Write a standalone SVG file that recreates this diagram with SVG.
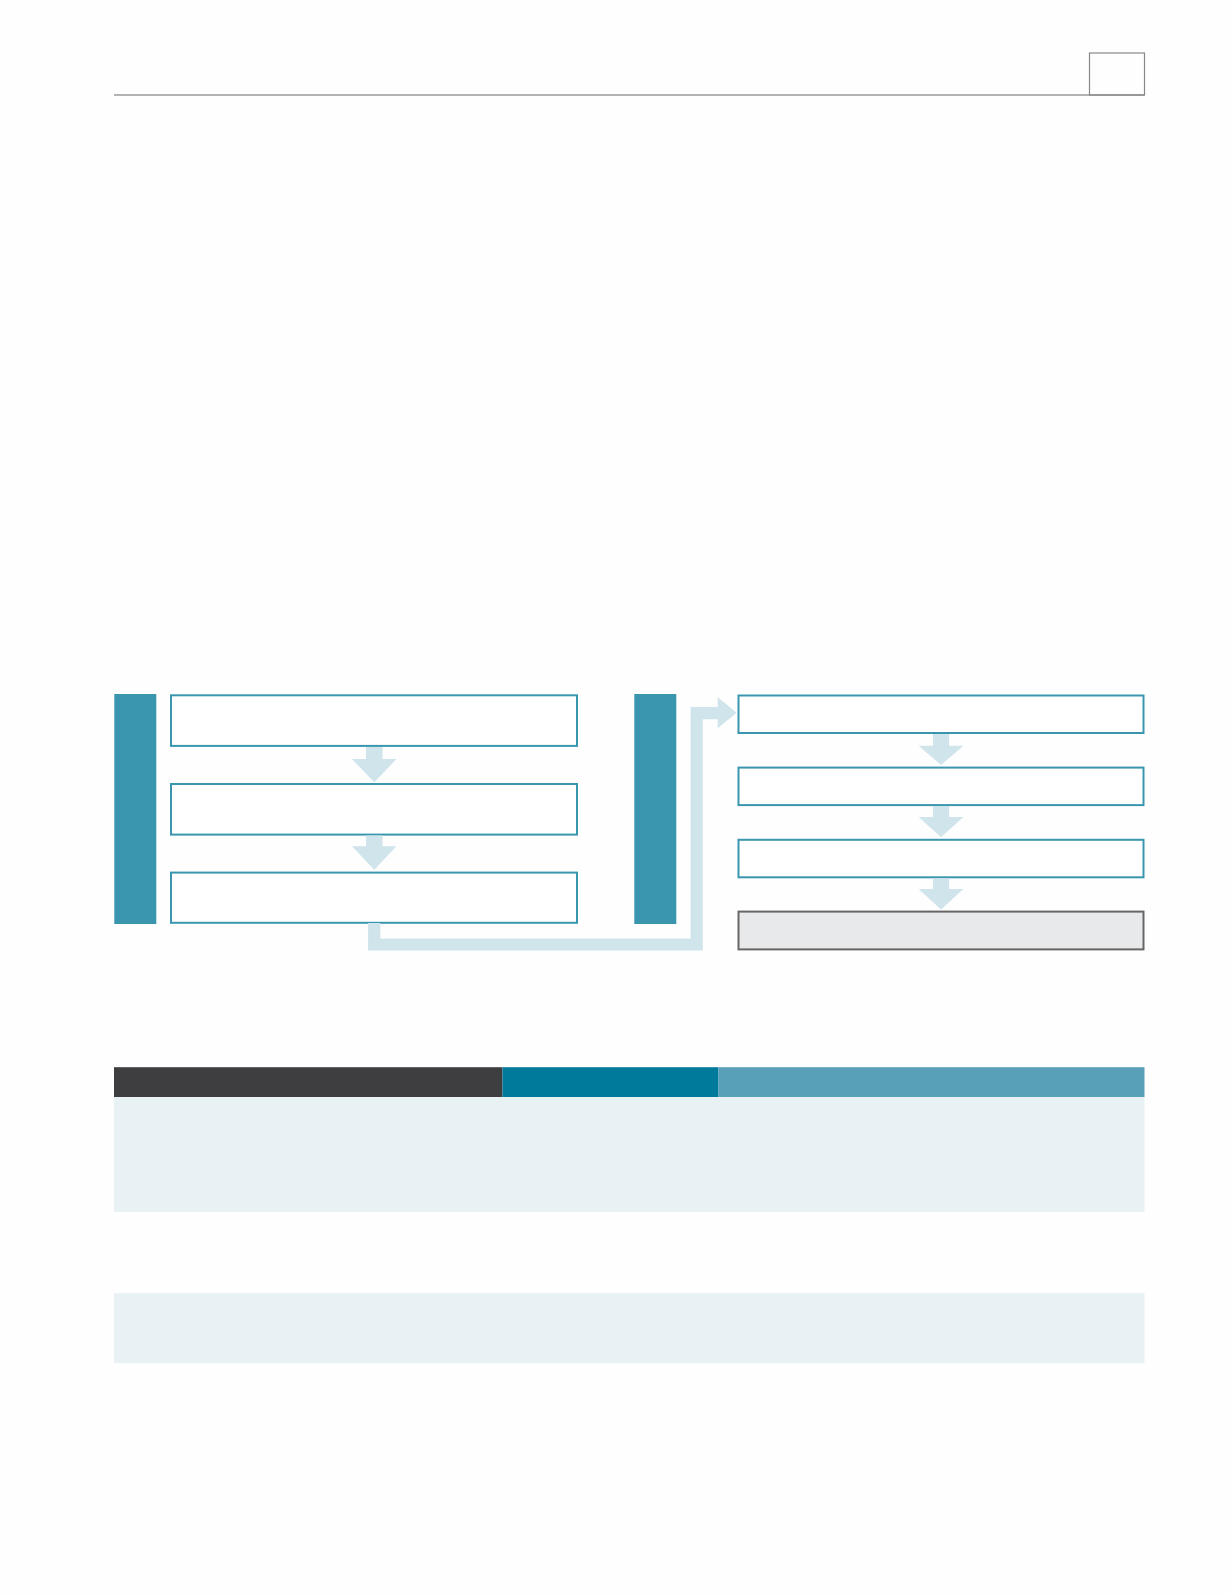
<svg xmlns="http://www.w3.org/2000/svg" width="1230" height="1595" viewBox="0 0 1230 1595">
<style>
.bar{fill:#3a96ae}
.box{fill:#ffffff;stroke:#3a96ae;stroke-width:2}
.end{fill:#e8e9eb;stroke:#666666;stroke-width:2}
.arr{fill:#d0e4eb}
.conn{fill:none;stroke:#d0e4eb;stroke-width:12.2;stroke-linejoin:miter}
.band{fill:#e8f1f4}
</style>
<rect width="1230" height="1595" fill="#fefefe"/>
<g id="header">
<line x1="114" y1="95" x2="1144.5" y2="95" stroke="#999999" stroke-width="1.5"/>
<rect x="1089.5" y="53" width="55" height="42" fill="none" stroke="#888888" stroke-width="1.2"/>
</g>
<g id="bar-left"><rect class="bar" x="114.3" y="694" width="42" height="230"/></g>
<g id="bar-right"><rect class="bar" x="634.3" y="694" width="42" height="230"/></g>
<g id="box-l1"><rect class="box" x="171" y="695.3" width="406" height="50.6"/></g>
<g id="box-l2"><rect class="box" x="171" y="784" width="406" height="50.6"/></g>
<g id="box-l3"><rect class="box" x="171" y="872.6" width="406" height="50.2"/></g>
<g id="box-r1"><rect class="box" x="738.5" y="695.5" width="405" height="37.5"/></g>
<g id="box-r2"><rect class="box" x="738.5" y="767.6" width="405" height="37.5"/></g>
<g id="box-r3"><rect class="box" x="738.5" y="839.8" width="405" height="37.5"/></g>
<g id="box-r4"><rect class="end" x="738.5" y="911.6" width="405" height="37.8"/></g>
<g id="connectors">
<polygon class="arr" points="366,747 382.6,747 382.6,759 396.5,759 374.3,782.3 352,759 366,759"/>
<polygon class="arr" points="366,835.6 382.6,835.6 382.6,846.3 396.5,846.3 374.3,869.8 352,846.3 366,846.3"/>
<polygon class="arr" points="932.9,734 949.1,734 949.1,745.7 963.4,745.7 941,765 918.6,745.7 932.9,745.7"/>
<polygon class="arr" points="932.9,806.1 949.1,806.1 949.1,816.9 963.4,816.9 941,837.2 918.6,816.9 932.9,816.9"/>
<polygon class="arr" points="932.9,878.3 949.1,878.3 949.1,889.1 963.4,889.1 941,909.5 918.6,889.1 932.9,889.1"/>
<path class="conn" d="M374.2 923 V944.5 H696.7 V713.1 H718.5"/>
<polygon class="arr" points="717.7,697.3 736.7,712.8 717.7,728.3"/>
</g>
<g id="table">
<rect x="114" y="1067.2" width="388.5" height="29.8" fill="#3e3e40"/>
<rect x="502.5" y="1067.2" width="215.7" height="29.8" fill="#007a9a"/>
<rect x="718.2" y="1067.2" width="426.3" height="29.8" fill="#58a0b8"/>
<rect class="band" x="114" y="1097" width="1030.5" height="114.8"/>
<rect class="band" x="114" y="1293.2" width="1030.5" height="70"/>
</g>
</svg>
